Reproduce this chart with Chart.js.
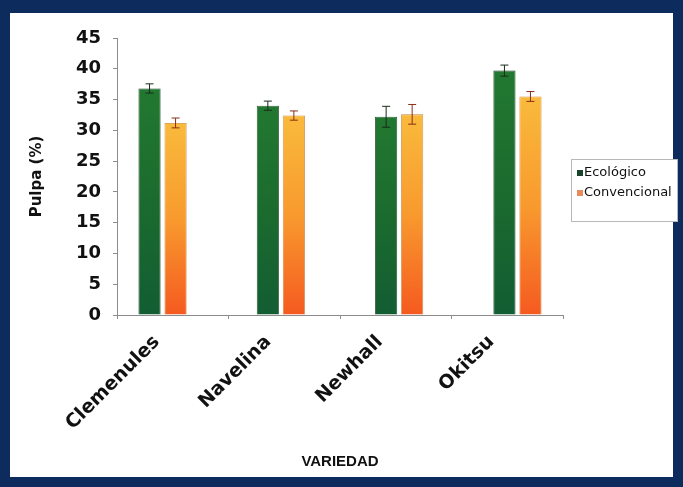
<!DOCTYPE html>
<html>
<head>
<meta charset="utf-8">
<script src="https://cdn.jsdelivr.net/npm/chart.js@4.4.1/dist/chart.umd.min.js"></script>
<style>
html,body{margin:0;padding:0;width:683px;height:487px;overflow:hidden;background:#0d2b5c;}
#panel{position:absolute;left:10px;top:13px;width:663px;height:464px;background:#fff;}
#wrap{position:absolute;left:0;top:0;width:683px;height:487px;}
</style>
</head>
<body>
<div id="panel"></div>
<div id="wrap"><canvas id="chart"></canvas></div>
<script>
// DATA
const varieties=["Clemenules","Navelina","Newhall","Okitsu"];
const ecologico=[36.8,34.0,32.2,39.7];
const ecologicoErr=[0.75,0.75,1.7,0.9];
const convencional=[31.2,32.4,32.6,35.5];
const convencionalErr=[0.8,0.75,1.6,0.8];
const yTicks=[0,5,10,15,20,25,30,35,40,45];

// category scale whose outer margins can be narrower than half a category
class EdgeCategoryScale extends Chart.CategoryScale{
    configure(){
        super.configure();
        const m=this.options.edgeMargin;
        if(m!=null){
            this._startValue=this.min-m;
            this._valueRange=(this.max-this.min)+2*m;
        }
    }
}
EdgeCategoryScale.id="edgeCategory";
Chart.register(EdgeCategoryScale);

// per bar vertical gradients
function barGradient(ctx,stops){
    const chart=ctx.chart;
    if(!chart.chartArea || ctx.parsed==null) return stops[0];
    const y=chart.scales.y;
    const top=y.getPixelForValue(ctx.parsed.y);
    const bottom=y.getPixelForValue(0);
    const g=chart.ctx.createLinearGradient(0,top,0,bottom);
    stops.forEach((c,i)=>g.addColorStop(i/(stops.length-1),c));
    return g;
}
const greenStops=["#227830","#1b6b2e","#135d33"];
const orangeStops=["#f9ba3c","#f89a2e","#f55a20"];

// ERROR BARS
const errorBars={
    id:"errorBars",
    afterDatasetsDraw(chart){
        const ctx=chart.ctx;
        const y=chart.scales.y;
        chart.data.datasets.forEach((ds,di)=>{
            const meta=chart.getDatasetMeta(di);
            ctx.save();
            ctx.strokeStyle=ds.errColor;
            ctx.lineWidth=1;
            meta.data.forEach((bar,i)=>{
                const v=ds.data[i], e=ds.errors[i];
                const t=y.getPixelForValue(v+e);
                const b=y.getPixelForValue(v-e);
                ctx.beginPath();
                ctx.moveTo(bar.x,t);ctx.lineTo(bar.x,b);
                ctx.moveTo(bar.x-4,t);ctx.lineTo(bar.x+4,t);
                ctx.moveTo(bar.x-4,b);ctx.lineTo(bar.x+4,b);
                ctx.stroke();
            });
            ctx.restore();
        });
    }
};

// LEGEND BOX
const boxLegend={
    id:"boxLegend",
    afterDraw(chart){
        const ctx=chart.ctx;
        const x=571,y=159,w=106,h=62;
        ctx.save();
        ctx.fillStyle="#fff";
        ctx.fillRect(x,y,w,h);
        ctx.strokeStyle="#b8b8b8";
        ctx.lineWidth=1;
        ctx.strokeRect(x+0.5,y+0.5,w,h);
        ctx.font="13px 'DejaVu Sans'";
        ctx.textBaseline="middle";
        chart.data.datasets.forEach((ds,i)=>{
            const ly=y+14+i*20;
            ctx.fillStyle=ds.legendColor;
            ctx.fillRect(x+6,ly-3,6,6);
            ctx.fillStyle="#111";
            ctx.fillText(ds.label,x+13,ly);
        });
        ctx.restore();
    }
};

const axisGrey="#8c8c8c";

new Chart(document.getElementById("chart"),{
    type:"bar",
    data:{
        labels:varieties,
        datasets:[
            {label:"Ecológico",data:ecologico,errors:ecologicoErr,xAxisID:"xb",
             backgroundColor:c=>barGradient(c,greenStops),
             borderColor:"#0f3d1c",borderWidth:0.8,
             errColor:"#1b2a1b",legendColor:"#17452a"},
            {label:"Convencional",data:convencional,errors:convencionalErr,xAxisID:"xb",
             backgroundColor:c=>barGradient(c,orangeStops),
             borderColor:"#c9823a",borderWidth:0.8,
             errColor:"#8a2f14",legendColor:"#e98a5c"}
        ]
    },
    options:{
        responsive:true,
        maintainAspectRatio:false,
        animation:false,
        categoryPercentage:0.44,
        barPercentage:0.85,
        layout:{padding:{left:0,top:38,right:120,bottom:0}},
        plugins:{legend:{display:false},tooltip:{enabled:false}},
        scales:{
            // bars sit on this hidden axis, grouped a bit wider than the labels
            xb:{type:"edgeCategory",edgeMargin:0.385,display:false,offset:true},
            x:{
                type:"category",
                offset:true,
                afterFit(s){s.height=172;},
                grid:{drawOnChartArea:false,color:axisGrey,tickLength:4,offset:true},
                border:{color:axisGrey,width:1},
                ticks:{
                    minRotation:45,maxRotation:45,autoSkip:false,
                    padding:12,labelOffset:-16,
                    color:"#111",
                    font:{family:"'DejaVu Sans'",weight:"bold",size:19}
                },
                title:{display:true,text:"VARIEDAD",color:"#111",
                    font:{family:"'Liberation Sans'",weight:"bold",size:15},
                    padding:{top:0,bottom:16}}
            },
            y:{
                min:0,max:45,
                afterFit(s){s.width=117;},
                afterBuildTicks(s){s.ticks=yTicks.map(v=>({value:v}));},
                grid:{drawOnChartArea:false,color:axisGrey,tickLength:4},
                border:{color:axisGrey,width:1},
                ticks:{padding:12,color:"#111",
                    font:{family:"'DejaVu Sans'",weight:"bold",size:18}},
                title:{display:true,text:"Pulpa (%)",color:"#111",
                    font:{family:"'DejaVu Sans'",weight:"bold",size:15},
                    padding:{top:28,bottom:0}}
            }
        }
    },
    plugins:[errorBars,boxLegend]
});
</script>
</body>
</html>
